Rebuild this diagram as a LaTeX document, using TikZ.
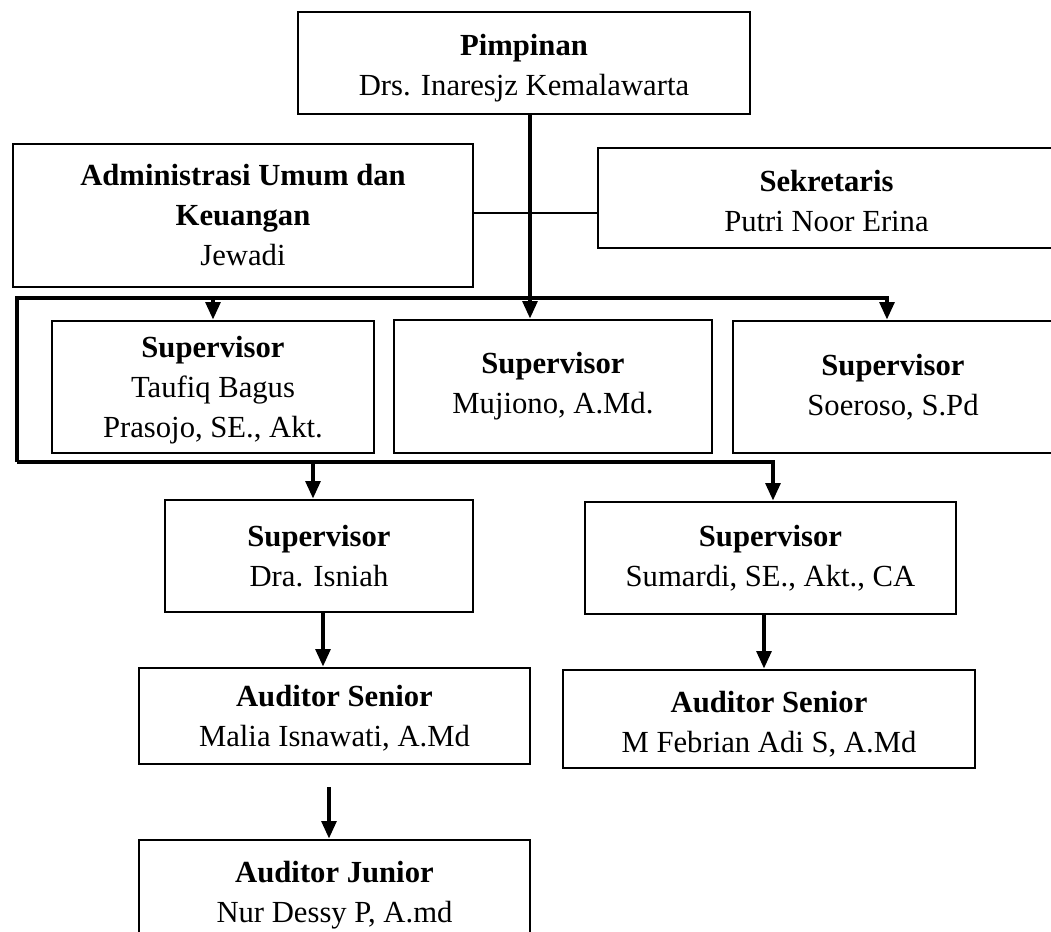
\documentclass[tikz,border=0pt]{standalone}
\usepackage{fontspec}
\setmainfont{Liberation Serif}
\usetikzlibrary{arrows.meta,calc}
\newcommand\upA{\rule{0pt}{20pt}}
\newcommand\upB{\rule{0pt}{24pt}}
\begin{document}
\begin{tikzpicture}[x=0.75pt,y=-0.75pt,
  box/.style={draw=black, line width=2.2pt, align=center, inner sep=0pt,
    font=\fontsize{23}{30}\selectfont},
  link/.style={line width=2.6pt, line join=miter},
  thinlink/.style={line width=1.9pt},
  arr/.style={link, -{Triangle[width=11pt,length=13pt]}}]
\useasboundingbox (0,0) rectangle (1051,932);
\clip (0,0) rectangle (1051,932);
% boxes
\node[box, minimum width=452*0.75pt, minimum height=102*0.75pt] (pim) at (524,63)
  {\upB\textbf{Pimpinan}\\Drs. Inaresjz Kemalawarta};
\node[box, minimum width=460*0.75pt, minimum height=143*0.75pt] (adm) at (243,215.5)
  {\textbf{Administrasi Umum dan}\\\textbf{Keuangan}\\Jewadi};
\node[box, minimum width=457*0.75pt, minimum height=100*0.75pt] (sek) at (826.5,198)
  {\upA\textbf{Sekretaris}\\Putri Noor Erina};
\node[box, minimum width=322*0.75pt, minimum height=132*0.75pt] (sv1) at (213,387)
  {\upA\textbf{Supervisor}\\Taufiq Bagus\\Prasojo, SE., Akt.};
\node[box, minimum width=318*0.75pt, minimum height=133*0.75pt] (sv2) at (553,386.5)
  {\textbf{Supervisor}\\Mujiono, A.Md.};
\node[box, minimum width=320*0.75pt, minimum height=132*0.75pt] (sv3) at (893,387)
  {\textbf{Supervisor}\\Soeroso, S.Pd};
\node[box, minimum width=308*0.75pt, minimum height=112*0.75pt] (isn) at (319,556)
  {\textbf{Supervisor}\\Dra. Isniah};
\node[box, minimum width=371*0.75pt, minimum height=112*0.75pt] (sum) at (770.5,558)
  {\textbf{Supervisor}\\Sumardi, SE., Akt., CA};
\node[box, minimum width=391*0.75pt, minimum height=96*0.75pt] (ms) at (334.5,716)
  {\upA\textbf{Auditor Senior}\\Malia Isnawati, A.Md};
\node[box, minimum width=412*0.75pt, minimum height=98*0.75pt] (mf) at (769,719)
  {\upB\textbf{Auditor Senior}\\M Febrian Adi S, A.Md};
\node[box, minimum width=391*0.75pt, minimum height=104*0.75pt] (aj) at (334.5,892)
  {\upA\textbf{Auditor Junior}\\Nur Dessy P, A.md};
% helper coordinates
\coordinate (tx) at (530,0);
\coordinate (hy) at (0,213);
\coordinate (bTL) at (17,298);
\coordinate (bBL) at (17,462);
\coordinate (a1) at (213,0);
\coordinate (a3) at (887,0);
\coordinate (a4) at (313,0);
\coordinate (a5) at (773,0);
\coordinate (c1) at (323,0);
\coordinate (c2) at (329,787);
\coordinate (c3) at (764,0);
% connectors
\draw[arr] (pim.south -| tx) -- (sv2.north -| tx);
\draw[thinlink] (adm.east |- hy) -- (sek.west |- hy);
\draw[arr] (bBL) -- (bTL) -- (bTL -| a3) -- (sv3.north -| a3);
\draw[arr] (bTL -| a1) -- (sv1.north -| a1);
\draw[arr] (bBL) -- (bBL -| a5) -- (sum.north -| a5);
\draw[arr] (bBL -| a4) -- (isn.north -| a4);
\draw[arr] (isn.south -| c1) -- (ms.north -| c1);
\draw[arr] (c2) -- (aj.north -| c2);
\draw[arr] (sum.south -| c3) -- (mf.north -| c3);
\end{tikzpicture}
\end{document}
